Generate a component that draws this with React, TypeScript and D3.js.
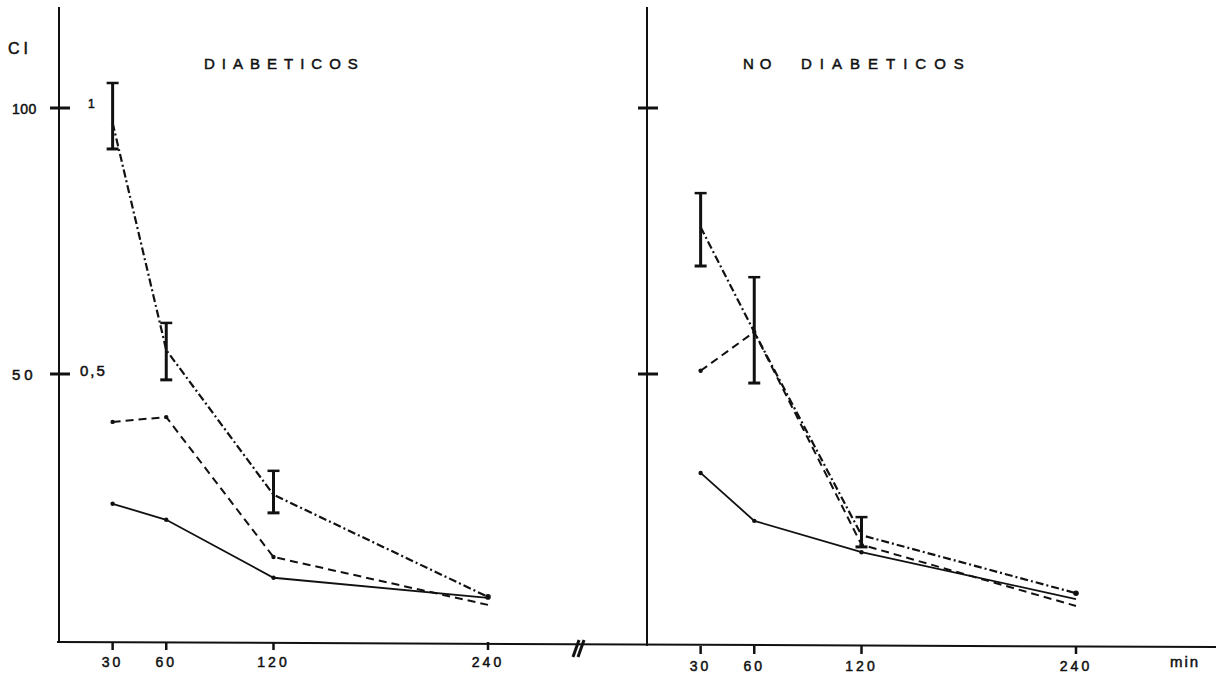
import React from 'react';
import * as d3 from 'd3';

// minutes after load
const minutes = [30, 60, 120, 240];
const xTickLabels = ['30', '60', '120', '240'];
const yTicks = [100, 50];

// DIABETICOS
const diabDashDot = [97.2, 54.5, 27.3, 8.1];
const diabErrLow = [92.3, 48.9, 23.9];
const diabErrHigh = [104.7, 59.6, 31.8];
const diabDashed = [41, 41.9, 15.6, 6.6];
const diabSolid = [25.6, 22.6, 11.7, 7.9];

// NO DIABETICOS
const noDiabDashDot = [77.6, 57.9, 19.7, 8.8];
const noDiabErrLow = [70.3, 48.3, 17.5];
const noDiabErrHigh = [84, 68.2, 23.1];
const noDiabDashed = [50.6, 57.9, 17.9, 6.4];
const noDiabSolid = [31.4, 22.4, 16.5, 7.7];

const font = 'Liberation Sans, Arial, sans-serif';

type PanelProps = {
  axisX: number;
  axisY: number;
  dashDot: number[];
  errLow: number[];
  errHigh: number[];
  dashed: number[];
  solid: number[];
};

const Panel = ({ axisX, axisY, dashDot, errLow, errHigh, dashed, solid }: PanelProps) => {
  const x = d3.scaleLinear().domain([0, 240]).range([axisX, axisX + 429]);
  const y = d3.scaleLinear().domain([0, 100]).range([640, 108]);
  const line = d3
    .line<number>()
    .x((_, i) => x(minutes[i]))
    .y((d) => y(d));

  return (
    <g>
      {/* y axis */}
      <line x1={axisX} y1={7} x2={axisX} y2={axisY} stroke="#111" strokeWidth={2} />
      {yTicks.map((t) => (
        <line key={t} x1={axisX - 9} x2={axisX + 11} y1={y(t)} y2={y(t)} stroke="#111" strokeWidth={3} />
      ))}
      {/* x ticks */}
      {minutes.map((m, i) => (
        <g key={m}>
          <line x1={x(m)} x2={x(m)} y1={axisY} y2={axisY + 8} stroke="#111" strokeWidth={2.5} />
          <text
            x={x(m)}
            y={axisY + 25}
            textAnchor="middle"
            fontFamily={font}
            fontSize={14}
            letterSpacing={3}
            fill="#111"
            stroke="#111"
            strokeWidth={0.5}
          >
            {xTickLabels[i]}
          </text>
        </g>
      ))}
      {/* series */}
      <path d={line(solid) ?? ''} fill="none" stroke="#111" strokeWidth={1.8} />
      <path d={line(dashed) ?? ''} fill="none" stroke="#111" strokeWidth={2} strokeDasharray="8 5" />
      <path d={line(dashDot) ?? ''} fill="none" stroke="#111" strokeWidth={2.2} strokeDasharray="8 3 2 3" />
      {[solid, dashed].map((s, k) =>
        s.slice(0, 3).map((v, i) => <circle key={`${k}-${i}`} cx={x(minutes[i])} cy={y(v)} r={2.2} fill="#111" />)
      )}
      <circle cx={x(240)} cy={y(dashDot[3])} r={2.8} fill="#111" />
      {/* error bars */}
      {errLow.map((lo, i) => {
        const cx = x(minutes[i]);
        return (
          <g key={i} stroke="#111">
            <line x1={cx} x2={cx} y1={y(errHigh[i])} y2={y(lo)} strokeWidth={3} />
            <line x1={cx - 6} x2={cx + 6} y1={y(errHigh[i])} y2={y(errHigh[i])} strokeWidth={2.5} />
            <line x1={cx - 6} x2={cx + 6} y1={y(lo)} y2={y(lo)} strokeWidth={3} />
          </g>
        );
      })}
    </g>
  );
};

export default function App() {
  return (
    <svg width={1224} height={678} style={{ position: 'absolute', left: 0, top: 0, background: '#fff' }}>
      <rect width={1224} height={678} fill="#fff" />
      {/* x axis with break */}
      <line x1={57} y1={642} x2={1216} y2={647} stroke="#111" strokeWidth={2} />
      <line x1={573} y1={657} x2={579} y2={640} stroke="#111" strokeWidth={3} />
      <line x1={578} y1={657} x2={584} y2={640} stroke="#111" strokeWidth={3} />

      <Panel
        axisX={59}
        axisY={642}
        dashDot={diabDashDot}
        errLow={diabErrLow}
        errHigh={diabErrHigh}
        dashed={diabDashed}
        solid={diabSolid}
      />
      <Panel
        axisX={647}
        axisY={646}
        dashDot={noDiabDashDot}
        errLow={noDiabErrLow}
        errHigh={noDiabErrHigh}
        dashed={noDiabDashed}
        solid={noDiabSolid}
      />

      <g fontFamily={font} fill="#111" stroke="#111" strokeWidth={0.5}>
        <text x={8} y={54} fontSize={16} letterSpacing={4}>CI</text>
        <text x={12} y={114} fontSize={14} letterSpacing={0.5}>100</text>
        <text x={12} y={380} fontSize={15} letterSpacing={4}>50</text>
        <text x={88} y={108} fontSize={12}>1</text>
        <text x={80} y={376} fontSize={15} letterSpacing={2}>0,5</text>
        <text x={204} y={69} fontSize={15} letterSpacing={7}>DIABETICOS</text>
        <text x={743} y={69} fontSize={15} letterSpacing={6}>NO</text>
        <text x={801} y={69} fontSize={15} letterSpacing={8}>DIABETICOS</text>
        <text x={1170} y={667} fontSize={15} letterSpacing={2}>min</text>
      </g>
    </svg>
  );
}
